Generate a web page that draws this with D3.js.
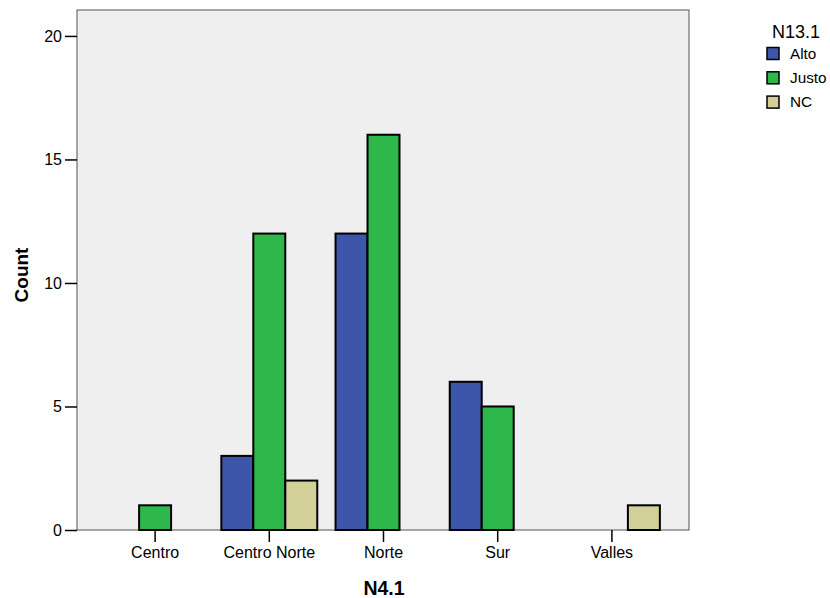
<!DOCTYPE html>
<html><head><meta charset="utf-8">
<script src="https://cdn.jsdelivr.net/npm/d3@7"></script>
<style>body{margin:0;background:#fff;} text{font-family:"Liberation Sans",Arial,sans-serif;}</style>
</head><body>
<svg id="c" width="830" height="598"></svg>
<script>
const categories = ["Centro", "Centro Norte", "Norte", "Sur", "Valles"];
const seriesNames = ["Alto", "Justo", "NC"];
const alto = [0, 3, 12, 6, 0];
const justo = [1, 12, 16, 5, 0];
const nc = [0, 2, 0, 0, 1];
const yTicks = [0, 5, 10, 15, 20];
const colors = ["#3d56aa", "#2eb84b", "#d3cf98"];

const series = [alto, justo, nc];
const svg = d3.select("#c");
const L = 77, R = 689, T = 10, B = 530;

const y = d3.scaleLinear().domain([0, 21.05]).range([B, T]);
const x0 = d3.scaleBand().domain(categories).range([98, 669]).paddingInner(0.16).paddingOuter(0.08);
const x1 = d3.scaleBand().domain(seriesNames).range([0, x0.bandwidth()]);

svg.append("rect").attr("x", L).attr("y", T).attr("width", R - L).attr("height", B - T)
  .attr("fill", "#efefef").attr("stroke", "#555").attr("stroke-width", 1);

categories.forEach((c, i) => {
  seriesNames.forEach((s, j) => {
    const v = series[j][i];
    if (v > 0) {
      svg.append("rect")
        .attr("x", x0(c) + x1(s)).attr("y", y(v))
        .attr("width", x1.bandwidth()).attr("height", y(0) - y(v))
        .attr("fill", colors[j]).attr("stroke", "#000").attr("stroke-width", 2);
    }
  });
});

// Y axis
const yAxis = d3.axisLeft(y).tickValues(yTicks).tickSize(12).tickPadding(3).tickFormat(d3.format("d"));
const ga = svg.append("g").attr("transform", `translate(${L},0)`).call(yAxis);
ga.select(".domain").remove();
ga.selectAll("line").attr("stroke", "#000").attr("stroke-width", 1.5);
ga.selectAll("text").attr("font-size", 16).attr("fill", "#000").style("font-family", "Liberation Sans, Arial, sans-serif");

// X axis
const xAxis = d3.axisBottom(x0).tickSize(12).tickPadding(5);
const gx = svg.append("g").attr("transform", `translate(0,${B})`).call(xAxis);
gx.select(".domain").remove();
gx.selectAll("line").attr("stroke", "#000").attr("stroke-width", 1.5);
gx.selectAll("text").attr("font-size", 16).attr("fill", "#000").style("font-family", "Liberation Sans, Arial, sans-serif");

// Axis titles
svg.append("text").attr("x", 384).attr("y", 595).attr("text-anchor", "middle")
  .attr("font-size", 19.5).attr("font-weight", "bold").text("N4.1");
svg.append("text").attr("transform", "translate(28,275) rotate(-90)").attr("text-anchor", "middle")
  .attr("font-size", 19).attr("font-weight", "bold").text("Count");

// Legend
svg.append("text").attr("x", 772).attr("y", 38).attr("font-size", 18).text("N13.1");
seriesNames.forEach((s, j) => {
  const yy = 47.5 + j * 24.3;
  svg.append("rect").attr("x", 767).attr("y", yy).attr("width", 12).attr("height", 12)
    .attr("fill", colors[j]).attr("stroke", "#000").attr("stroke-width", 1.5);
  svg.append("text").attr("x", 790).attr("y", yy + 11).attr("font-size", 15.3).text(s);
});
</script>
</body></html>
